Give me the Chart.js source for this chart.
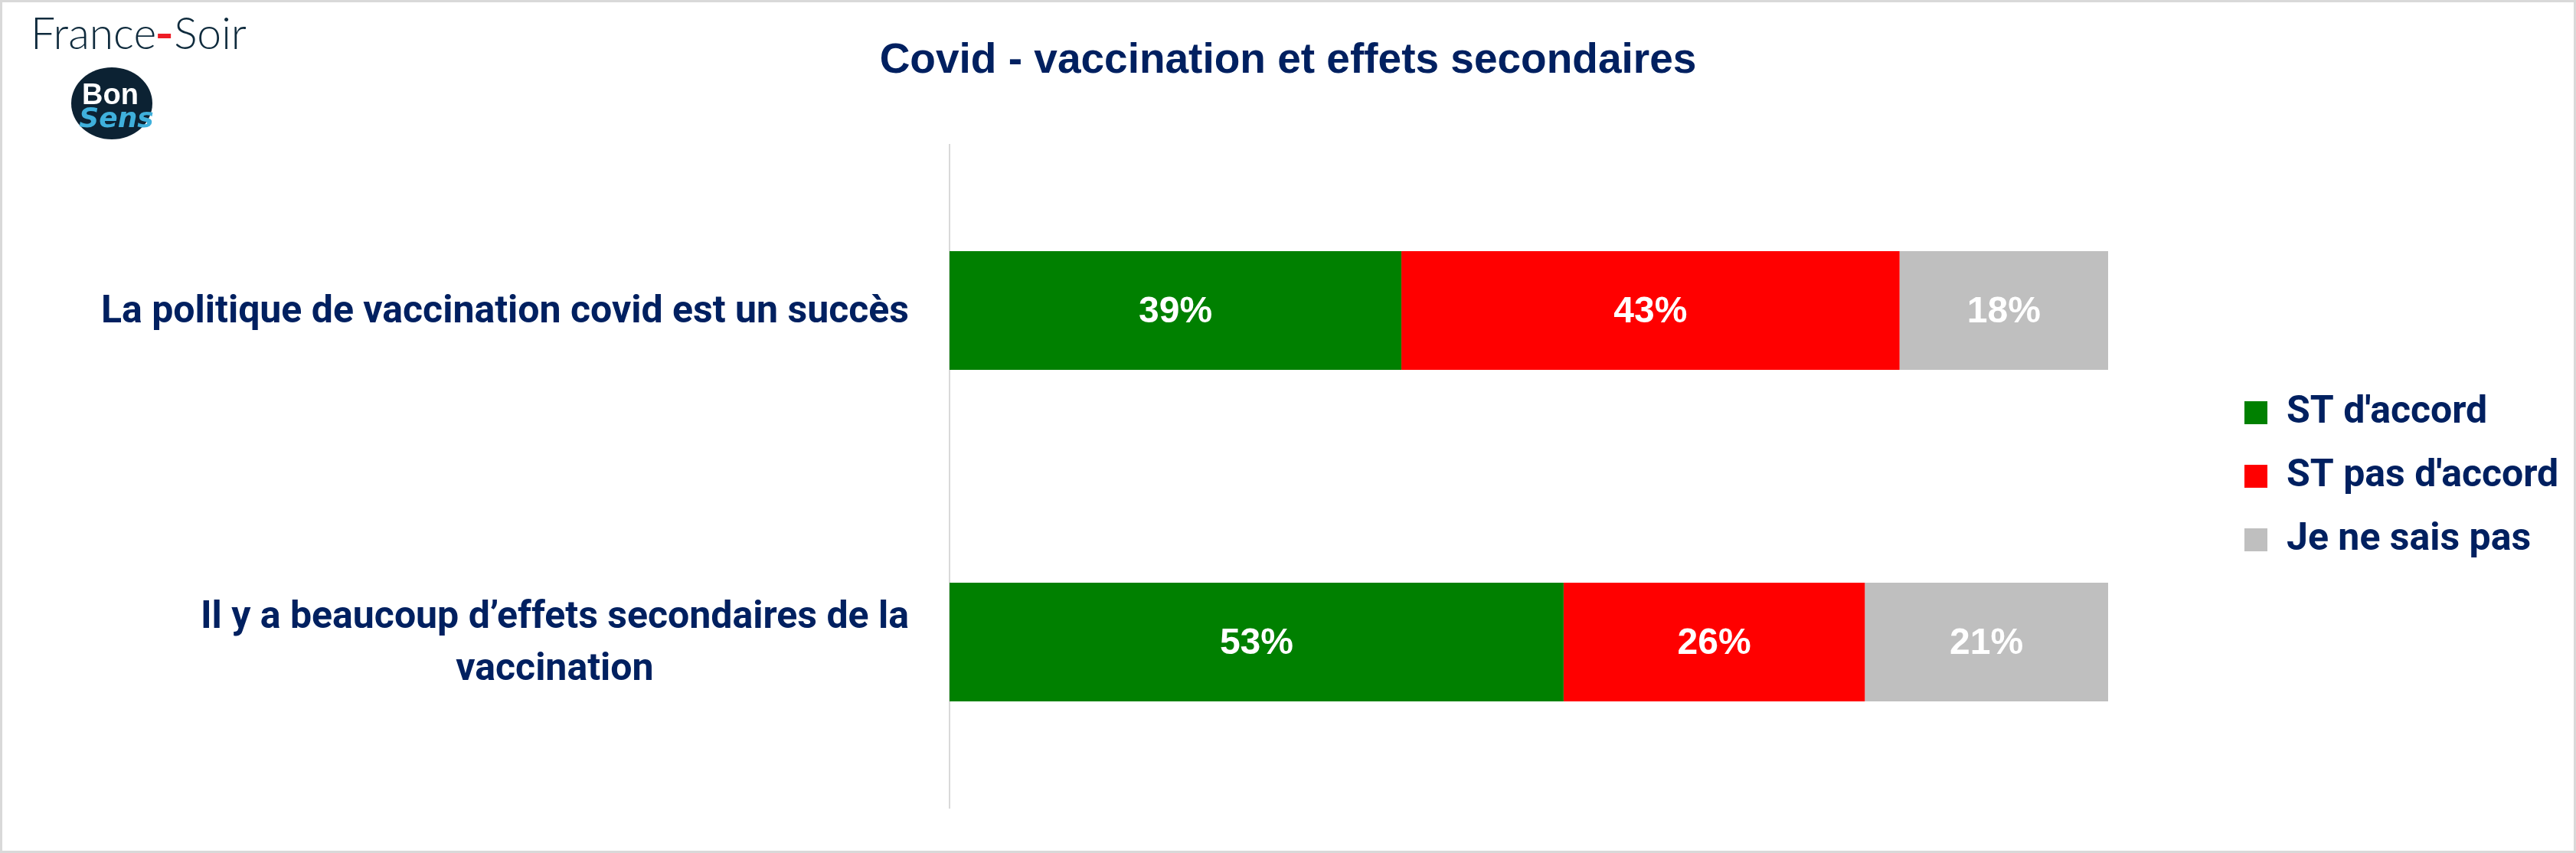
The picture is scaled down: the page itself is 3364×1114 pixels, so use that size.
<!DOCTYPE html>
<html>
<head>
<meta charset="utf-8">
<script src="https://cdn.jsdelivr.net/npm/chart.js@4.4.1/dist/chart.umd.min.js"></script>
<style>
  html, body { margin: 0; padding: 0; background: #fff; }
</style>
</head>
<body>
<canvas id="barChart" width="3364" height="1114"></canvas>
<script>
// data
const categories = [
  ["La politique de vaccination covid est un succès"],
  ["Il y a beaucoup d’effets secondaires de la", "vaccination"],
];
const seriesNames = ["ST d'accord", "ST pas d'accord", "Je ne sais pas"];
const stAccord = [39, 53];
const stPasAccord = [43, 26];
const neSaisPas = [18, 21];
const seriesColors = ["#008000", "#ff0000", "#bfbfbf"];
const chartTitle = "Covid - vaccination et effets secondaires";

const navy = "#002060";
const labelFont = "Roboto, 'Liberation Sans', sans-serif";
const legendFontSize = 50;
const legendPadding = 33;
const legendBox = 30;
const plotLeft = 1240;
const plotRight = 2753;
const legendBoxX = 2931;

// legend width as Chart.js computes it (padding + box + half font + text + 10)
const measureCtx = document.createElement("canvas").getContext("2d");
measureCtx.font = `700 ${legendFontSize}px ${labelFont}`;
const widestLegend = Math.max(...seriesNames.map(n => measureCtx.measureText(n).width));
const legendWidth = legendPadding + legendBox + legendFontSize / 2 + widestLegend + 10;
const legendGap = legendBoxX - legendPadding - plotRight;
const sidePad = Math.max(0, 3364 - plotRight - legendGap - legendWidth);

// empty box between plot and legend
const legendSpacer = {
  id: "legendSpacer",
  beforeInit(chart) {
    Chart.layouts.addBox(chart, {
      position: "right",
      weight: 0,
      fullSize: false,
      options: {},
      left: 0, top: 0, right: 0, bottom: 0, width: 0, height: 0,
      isHorizontal() { return false; },
      update(maxWidth, maxHeight) {
        this.width = legendGap;
        this.height = maxHeight;
      },
      draw() {},
    });
  },
};

// white page, grey frame and the two logos
const frame = {
  id: "frame",
  beforeDraw(chart) {
    const ctx = chart.ctx;
    ctx.save();
    ctx.fillStyle = "#fff";
    ctx.fillRect(0, 0, chart.width, chart.height);
    ctx.restore();
  },
  afterDraw(chart) {
    const ctx = chart.ctx;
    ctx.save();
    ctx.strokeStyle = "#d9d9d9";
    ctx.lineWidth = 3;
    ctx.strokeRect(1.5, 1.5, chart.width - 3, chart.height - 3);

    // France-Soir
    ctx.textBaseline = "alphabetic";
    ctx.textAlign = "left";
    let x = 40;
    ctx.font = "300 57px Lato, 'Noto Sans', sans-serif";
    ctx.fillStyle = "#0f2b3d";
    ctx.fillText("France", x, 64);
    x += ctx.measureText("France").width + 2;
    ctx.fillStyle = "#ee1c25";
    ctx.fillRect(x, 44, 17, 6);
    x += 21;
    ctx.fillStyle = "#0f2b3d";
    ctx.fillText("Soir", x, 64);

    // Bon Sens badge
    ctx.beginPath();
    ctx.ellipse(146, 135, 53, 47, 0, 0, Math.PI * 2);
    ctx.fillStyle = "#0c2233";
    ctx.fill();
    ctx.textAlign = "center";
    ctx.fillStyle = "#fff";
    ctx.font = "700 38px 'Liberation Sans', sans-serif";
    ctx.fillText("Bon", 144, 136);
    ctx.fillStyle = "#3fb0dc";
    ctx.font = "italic 700 36px 'DejaVu Sans', sans-serif";
    ctx.fillText("Sens", 152, 166);
    ctx.restore();
  },
};

// category names left of the axis, lines centred on each other
const categoryLabels = {
  id: "categoryLabels",
  afterDraw(chart) {
    const ctx = chart.ctx;
    const yScale = chart.scales.y;
    const lineHeight = 68;
    ctx.save();
    ctx.font = `700 50px ${labelFont}`;
    ctx.fillStyle = navy;
    ctx.textAlign = "center";
    ctx.textBaseline = "middle";
    chart.data.labels.forEach((lines, i) => {
      const yc = yScale.getPixelForValue(i) + 3;
      const widest = Math.max(...lines.map(l => ctx.measureText(l).width));
      const xc = yScale.right - 53 - widest / 2;
      const top = yc - (lines.length - 1) * lineHeight / 2;
      lines.forEach((l, j) => ctx.fillText(l, xc, top + j * lineHeight));
    });
    ctx.restore();
  },
};

// percentages in the middle of each segment
const valueLabels = {
  id: "valueLabels",
  afterDatasetsDraw(chart) {
    const ctx = chart.ctx;
    ctx.save();
    ctx.font = "700 48px 'Liberation Sans', Arial, sans-serif";
    ctx.fillStyle = "#fff";
    ctx.textAlign = "center";
    ctx.textBaseline = "middle";
    chart.data.datasets.forEach((ds, di) => {
      chart.getDatasetMeta(di).data.forEach((bar, i) => {
        const p = bar.getCenterPoint();
        ctx.fillText(`${ds.data[i]}%`, p.x, p.y + 2);
      });
    });
    ctx.restore();
  },
};

const ctx = document.getElementById("barChart").getContext("2d");
const barChart = new Chart(ctx, {
  type: "bar",
  data: {
    labels: categories,
    datasets: [stAccord, stPasAccord, neSaisPas].map((data, i) => ({
      label: seriesNames[i],
      data,
      backgroundColor: seriesColors[i],
      borderWidth: 0,
      barPercentage: 0.358,
      categoryPercentage: 1,
    })),
  },
  options: {
    indexAxis: "y",
    responsive: false,
    animation: false,
    devicePixelRatio: 1,
    layout: {
      padding: { left: sidePad, right: sidePad, top: 0, bottom: 59 },
    },
    plugins: {
      title: {
        display: true,
        text: chartTitle,
        color: navy,
        font: { family: "'Liberation Sans', Arial, sans-serif", size: 55, weight: "bold" },
        padding: { top: 47, bottom: 76 },
      },
      legend: {
        position: "right",
        fullSize: false,
        labels: {
          color: navy,
          boxWidth: legendBox,
          boxHeight: legendBox,
          padding: legendPadding,
          font: { family: labelFont, size: legendFontSize, weight: "bold" },
        },
      },
      tooltip: { enabled: false },
    },
    scales: {
      x: {
        stacked: true,
        min: 0,
        max: 100,
        display: false,
      },
      y: {
        stacked: true,
        grid: { display: false },
        border: { display: true, color: "#d9d9d9", width: 2 },
        ticks: { display: false },
        afterFit(scale) {
          scale.width = plotLeft - sidePad;
        },
      },
    },
  },
  plugins: [legendSpacer, frame, categoryLabels, valueLabels],
});
</script>
</body>
</html>
